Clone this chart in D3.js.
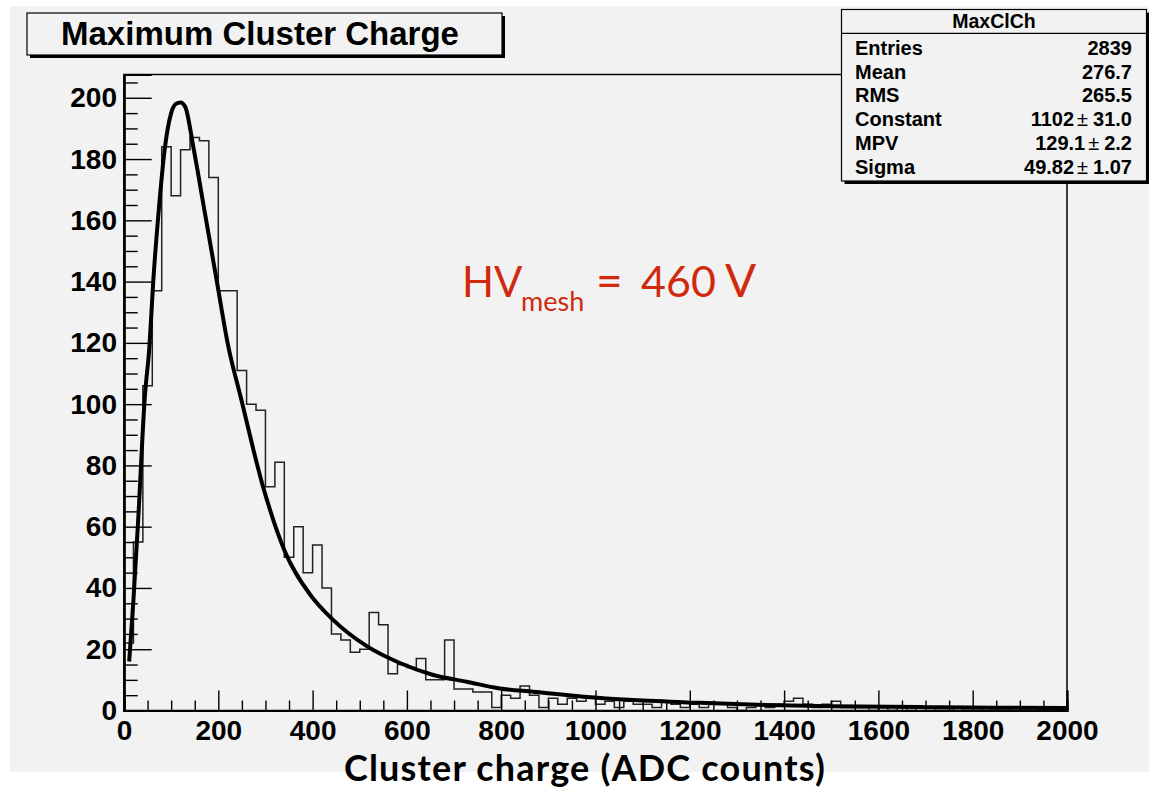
<!DOCTYPE html>
<html>
<head>
<meta charset="utf-8">
<script src="https://cdn.jsdelivr.net/npm/d3@7"></script>
<style>
  body { margin: 0; background: #ffffff; }
  svg { display: block; }
</style>
</head>
<body>
<svg id="chart" width="1149" height="789"></svg>
<script>
// Histogram: 100 bins of width 20 ADC counts, from 0 to 2000
const binStart = 0;
const binWidth = 20;
const binCounts = [
  22, 55, 106, 137, 184, 168, 183, 187, 186, 174,
  137, 137, 111, 100, 98, 73, 81, 50, 60, 45,
  54, 40, 25, 23, 19, 20, 32, 28, 12, 15,
  14, 17, 10, 10, 23, 7, 7, 6, 6, 1,
  5, 4, 8, 5, 1, 4, 2, 4, 3, 4,
  2, 3, 1, 3, 2, 2, 1, 3, 2, 1,
  2, 1, 2, 2, 1, 0, 1, 2, 1, 2,
  3, 4, 2, 1, 2, 3, 1, 1, 1, 0,
  1, 0, 1, 0, 1, 1, 0, 0, 1, 0,
  0, 1, 0, 0, 1, 0, 1, 0, 1, 0
];

// Landau fit curve, sampled points (ADC counts, entries)
const fitCharge = [11, 20, 30, 44, 54, 62, 73, 87, 100, 110, 120, 130, 147, 172, 197, 221, 248,
  295, 341, 394, 444, 515, 585, 656, 727, 797, 868, 974, 1080, 1222, 1363, 1500, 1700, 1850, 2000];
const fitEntries = [16, 36, 62, 102, 119, 140, 162, 184, 195, 198, 198.5, 197, 184, 162, 140, 119, 102,
  73, 52, 38, 29.5, 21, 15.5, 11.6, 9.4, 7.2, 6.1, 4.5, 3.4, 2.5, 1.8, 1.4, 1.1, 0.9, 0.8];

// Axis ticks
const xMajorTicks = [0, 200, 400, 600, 800, 1000, 1200, 1400, 1600, 1800, 2000];
const yMajorTicks = [0, 20, 40, 60, 80, 100, 120, 140, 160, 180, 200];

// Statistics box
const statTitle = "MaxClCh";
const statNames = ["Entries", "Mean", "RMS", "Constant", "MPV", "Sigma"];
const statValues = ["2839", "276.7", "265.5", "1102", "129.1", "49.82"];
const statErrors = [null, null, null, "31.0", "2.2", "1.07"];

const titleText = "Maximum Cluster Charge";
const xAxisTitle = "Cluster charge (ADC counts)";

const svg = d3.select("#chart");
const rootFont = "'Liberation Sans', Arial, Helvetica, sans-serif";
const gill = "Lato, 'Open Sans', sans-serif";
const bg = "#f2f2f2";

// canvas background
svg.append("rect").attr("x", 10).attr("y", 6).attr("width", 1139).attr("height", 766).attr("fill", bg);

const frame = { left: 124, right: 1067, top: 74.5, bottom: 710.5 };
const x = d3.scaleLinear().domain([0, 2000]).range([frame.left, frame.right]);
const y = d3.scaleLinear().domain([0, 207.6]).range([frame.bottom, frame.top]);

// frame
svg.append("rect")
  .attr("x", frame.left).attr("y", frame.top)
  .attr("width", frame.right - frame.left).attr("height", frame.bottom - frame.top)
  .attr("fill", bg).attr("stroke", "#000").attr("stroke-width", 1.5);

// histogram outline
const histPath = d3.path();
histPath.moveTo(x(binStart), y(0));
binCounts.forEach((c, i) => {
  const x0 = binStart + i * binWidth;
  histPath.lineTo(x(x0), y(c));
  histPath.lineTo(x(x0 + binWidth), y(c));
});
histPath.lineTo(x(binStart + binCounts.length * binWidth), y(0));
svg.append("path").attr("d", histPath.toString())
  .attr("fill", "none").attr("stroke", "#222").attr("stroke-width", 1.5);

// fit curve
const fitLine = d3.line()
  .x((d, i) => x(fitCharge[i]))
  .y((d, i) => y(fitEntries[i]))
  .curve(d3.curveMonotoneX);
svg.append("path").attr("d", fitLine(fitCharge))
  .attr("fill", "none").attr("stroke", "#000").attr("stroke-width", 4)
  .attr("stroke-linejoin", "round");

// x axis: major and minor ticks pointing inward
const xMinor = d3.range(0, 2001, 50).filter(v => v % 200 !== 0);
const xAxisMajor = d3.axisBottom(x).tickValues(xMajorTicks).tickSize(-20).tickPadding(9.5)
  .tickFormat(d3.format("d"));
const xAxisMinor = d3.axisBottom(x).tickValues(xMinor).tickSize(-10).tickFormat("");
const gxm = svg.append("g").attr("transform", `translate(0,${frame.bottom})`).call(xAxisMinor);
const gx = svg.append("g").attr("transform", `translate(0,${frame.bottom})`).call(xAxisMajor);

// y axis
const yMinor = d3.range(0, 206, 5).filter(v => v % 20 !== 0);
const yAxisMajor = d3.axisLeft(y).tickValues(yMajorTicks).tickSize(-27.7).tickPadding(7)
  .tickFormat(d3.format("d"));
const yAxisMinor = d3.axisLeft(y).tickValues(yMinor).tickSize(-13.7).tickFormat("");
const gym = svg.append("g").attr("transform", `translate(${frame.left},0)`).call(yAxisMinor);
const gy = svg.append("g").attr("transform", `translate(${frame.left},0)`).call(yAxisMajor);

[gx, gxm, gy, gym].forEach(g => {
  g.select(".domain").attr("stroke", "#000").attr("stroke-width", 2.2);
  g.selectAll(".tick line").attr("stroke", "#000").attr("stroke-width", 1.4);
  g.selectAll("text").attr("font-family", rootFont).attr("font-weight", "bold")
    .attr("font-size", 28).attr("fill", "#000");
});

// title box with shadow
const tb = { x: 27, y: 13, w: 475, h: 42 };
svg.append("rect").attr("x", tb.x + 3).attr("y", tb.y + 3).attr("width", tb.w).attr("height", tb.h).attr("fill", "#000");
svg.append("rect").attr("x", tb.x).attr("y", tb.y).attr("width", tb.w).attr("height", tb.h)
  .attr("fill", bg).attr("stroke", "#000").attr("stroke-width", 1.2);
svg.append("text").attr("x", 260).attr("y", 45)
  .attr("text-anchor", "middle").attr("font-family", rootFont).attr("font-weight", "bold")
  .attr("font-size", 33).attr("fill", "#000").text(titleText);

// statistics box
const sb = { x: 841.5, y: 9.5, w: 305, h: 171.5 };
svg.append("rect").attr("x", sb.x + 3).attr("y", sb.y + 3).attr("width", sb.w).attr("height", sb.h).attr("fill", "#000");
svg.append("rect").attr("x", sb.x).attr("y", sb.y).attr("width", sb.w).attr("height", sb.h)
  .attr("fill", bg).attr("stroke", "#000").attr("stroke-width", 1.2);
svg.append("line").attr("x1", sb.x).attr("x2", sb.x + sb.w).attr("y1", 33.3).attr("y2", 33.3)
  .attr("stroke", "#000").attr("stroke-width", 1.2);
svg.append("text").attr("x", sb.x + sb.w / 2).attr("y", 28.3).attr("text-anchor", "middle")
  .attr("font-family", rootFont).attr("font-weight", "bold").attr("font-size", 19.5).text(statTitle);
const rowBase = [55, 78.5, 102, 126, 150, 173.5];
statNames.forEach((name, i) => {
  svg.append("text").attr("x", 855).attr("y", rowBase[i])
    .attr("font-family", rootFont).attr("font-weight", "bold").attr("font-size", 20).text(name);
  const t = svg.append("text").attr("x", 1132).attr("y", rowBase[i]).attr("text-anchor", "end")
    .attr("font-family", rootFont).attr("font-weight", "bold").attr("font-size", 20);
  t.append("tspan").text(statValues[i]);
  if (statErrors[i] !== null) {
    t.append("tspan").attr("font-weight", "normal").attr("dx", 3).text("\u00b1");
    t.append("tspan").attr("dx", 5).text(statErrors[i]);
  }
});

// high voltage annotation
const hvColor = "#cf2a0e";
const hv = svg.append("text").attr("y", 297)
  .attr("font-family", gill).attr("font-size", 42).attr("fill", hvColor);
hv.append("tspan").attr("x", 462).text("HV");
hv.append("tspan").attr("x", 521).attr("y", 311).attr("font-size", 27).text("mesh");
hv.append("tspan").attr("x", 596).attr("y", 297).attr("font-size", 46).text("=");
hv.append("tspan").attr("x", 641).attr("y", 297).attr("font-size", 43).text("460");
hv.append("tspan").attr("x", 725).attr("y", 297).attr("font-size", 46).text("V");

// x axis title
svg.append("text").attr("x", 585).attr("y", 781).attr("text-anchor", "middle")
  .attr("font-family", gill).attr("font-weight", "bold").attr("font-size", 36)
  .attr("letter-spacing", 1.2).attr("fill", "#000").text(xAxisTitle);
</script>
</body>
</html>
